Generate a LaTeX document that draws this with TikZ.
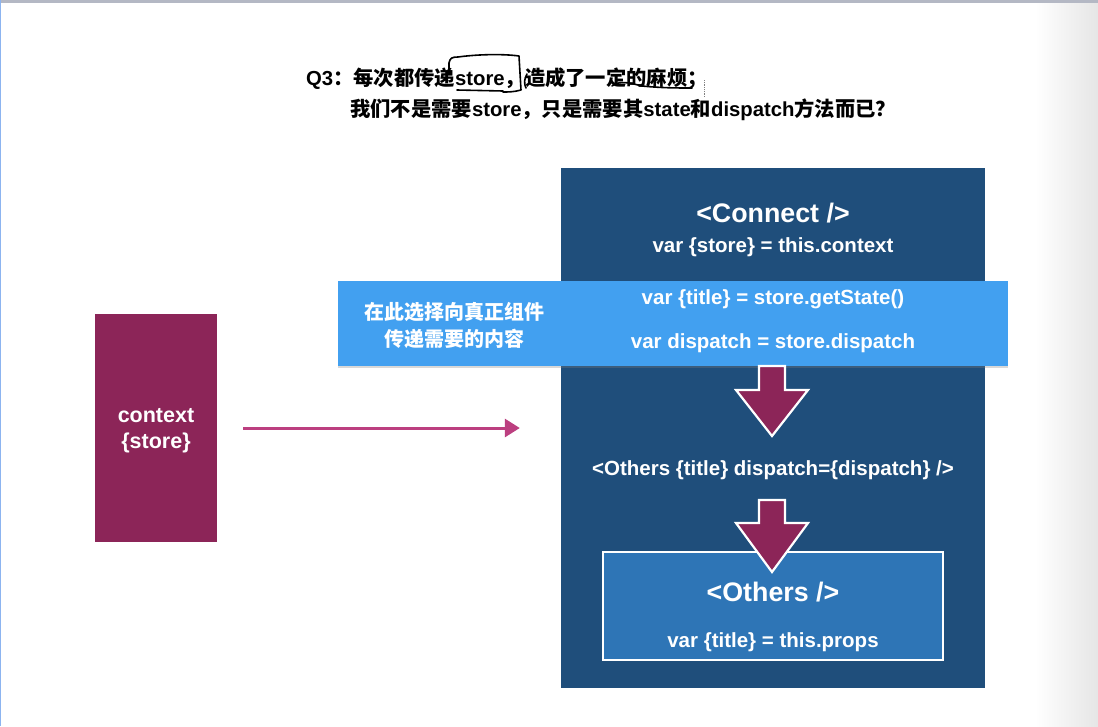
\documentclass[tikz,border=0pt]{standalone}
\usepackage{fontspec}
\setmainfont{Liberation Sans}
\newfontfamily\cjk{Noto Sans CJK SC}
\usetikzlibrary{calc,arrows.meta,shadows}
\definecolor{darkbox}{RGB}{31,78,123}
\definecolor{innerbox}{RGB}{46,117,182}
\definecolor{bandblue}{RGB}{66,160,240}
\definecolor{magentabox}{RGB}{140,37,88}
\definecolor{pinkline}{RGB}{188,63,128}
\definecolor{topbar}{RGB}{180,184,196}
\definecolor{leftline}{RGB}{140,180,240}
\begin{document}
\begin{tikzpicture}[x=1pt,y=-1pt,
  big/.style={text=white,font=\bfseries\fontsize{26.8}{30}\selectfont,inner sep=0pt},
  code/.style={text=white,font=\bfseries\fontsize{20.5}{24}\selectfont,inner sep=0pt},
  cjkwhite/.style={text=white,font=\cjk\bfseries\fontsize{20}{27}\selectfont,align=center,inner sep=0pt},
  titletext/.style={text=black,font=\bfseries\fontsize{20.3}{24}\selectfont,inner sep=0pt,anchor=west},
  blockarrow/.style={fill=magentabox,draw=white,line width=2.2pt,line join=miter},
  hand/.style={draw=black,line width=1.6pt,line cap=round,line join=round}]
\useasboundingbox (0,0) rectangle (1098,726);
\fill[white] (0,0) rectangle (1098,726);
\shade[left color=white,right color=black!10] (1035,0) rectangle (1098,726);
\fill[topbar] (0,0) rectangle (1098,3);
\fill[leftline] (0,0) rectangle (1.2,726);

% title
\node[titletext] (t1) at (306,79) {Q3{\cjk ：每次都传递}store{\cjk ，造成了一定的麻烦；}};
\node[titletext] (t2) at (350,110) {{\cjk 我们不是需要}store{\cjk ，只是需要其}state{\cjk 和}dispatch{\cjk 方法而已？}};

% handwriting
\draw[hand] (449,74) -- (449,63) .. controls (450,58) and (452,57) .. (458,57)
  .. controls (480,54) and (505,54) .. (519,56) -- (521,90) .. controls (514,92) and (508,92) .. (503,92);
\draw[hand] (457,90) -- (503,91);
\draw[hand] (527,74) .. controls (524,79) and (524,84) .. (526,88);
\draw[hand] (612,86) .. controls (620,80) and (630,83) .. (642,86) .. controls (662,88) and (677,88) .. (692,88);
\draw[gray,densely dotted,line width=0.8pt] (704,80) -- (704,97);

% left box
\node[fill=magentabox,minimum width=122pt,minimum height=228pt,inner sep=0pt] (ctx) at (156,428) {};
\node[code,font=\bfseries\fontsize{21.5}{26}\selectfont,align=center] (ctxt) at (156,431) {context\\[0pt]\{store\}};

% outer connect box
\node[fill=darkbox,minimum width=424pt,minimum height=520pt,inner sep=0pt] (outer) at (773,428) {};
\node[big] (conn) at (773,213) {<Connect />};
\node[code] (vstore) at (773,247.5) {var \{store\} = this.context};

% band
\node[fill=bandblue,minimum width=670pt,minimum height=85pt,inner sep=0pt,
  drop shadow={shadow xshift=0pt,shadow yshift=-2pt,opacity=0.3}] (band) at (673,323.5) {};
\node[cjkwhite] (note) at (454,325) {在此选择向真正组件\\传递需要的内容};
\node[code] (vtitle) at (773,299.5) {var \{title\} = store.getState()};
\node[code] (vdisp) at (773,343.5) {var dispatch = store.dispatch};

% arrow 1
\coordinate (a1) at (772,366);
\draw[blockarrow] (a1) ++(-13,0) -- ++(0,24) -- ++(-23,0) -- ++(36,46) -- ++(36,-46) -- ++(-23,0) -- ++(0,-24) -- cycle;

\node[code] (others) at (773,470.5) {<Others \{title\} dispatch=\{dispatch\} />};

% inner box
\node[fill=innerbox,draw=white,line width=2pt,minimum width=340pt,minimum height=108pt,inner sep=0pt] (inner) at (773,606) {};
\node[big] (oth2) at (773,592) {<Others />};
\node[code] (vprops) at (773,642.5) {var \{title\} = this.props};

% arrow 2
\coordinate (a2) at (772,500);
\draw[blockarrow] (a2) ++(-13,0) -- ++(0,23) -- ++(-23,0) -- ++(36,49) -- ++(36,-49) -- ++(-23,0) -- ++(0,-23) -- cycle;

% connector
\draw[pinkline,line width=3pt,-{Triangle[length=15pt,width=18pt]},shorten <=26pt,shorten >=41pt] (ctx.east) -- (outer.west);
\end{tikzpicture}
\end{document}
